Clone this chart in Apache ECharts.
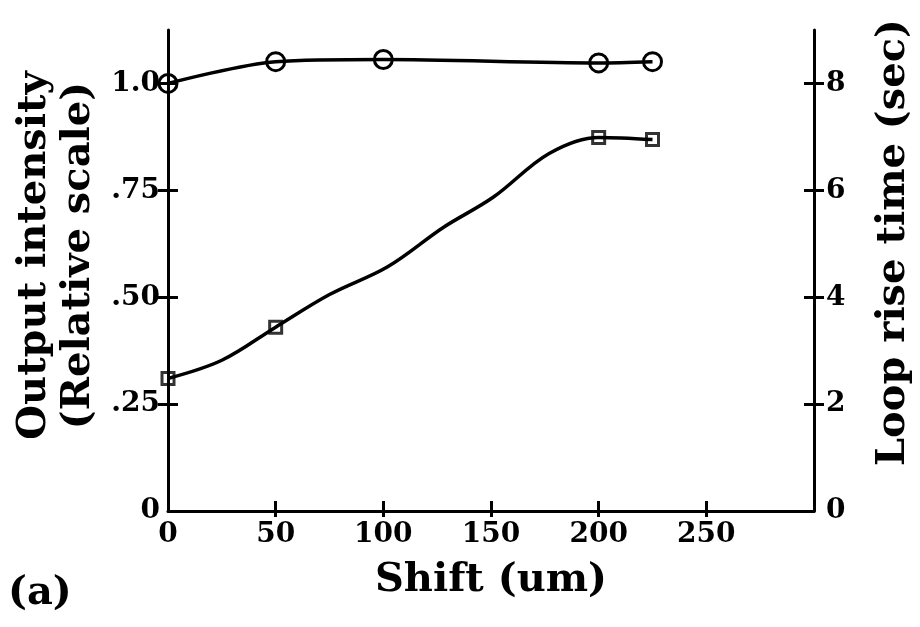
<!DOCTYPE html>
<html><head><meta charset="utf-8">
<script src="https://cdn.jsdelivr.net/npm/echarts@6/dist/echarts.min.js"></script>
<style>html,body{margin:0;padding:0;background:#fff}#c{width:920px;height:627px}</style>
</head><body><div id="c"></div>
<script>
// ---- data ----
const shiftLabelValues = [0, 50, 100, 150, 200, 250];
const shiftTickValues = [50, 100, 150, 200, 250];
const leftTickValues = [0, 0.25, 0.5, 0.75, 1.0];
const leftTickLabels = ['0', '.25', '.50', '.75', '1.0'];
const leftTickMarks = [0.25, 0.5, 0.75, 1.0];
const rightTickValues = [0, 2, 4, 6, 8];
const rightTickLabels = ['0', '2', '4', '6', '8'];
const rightTickMarks = [2, 4, 6, 8];

const intensityShift = [0, 50, 100, 200, 225];
const intensity = [1.0, 1.051, 1.056, 1.048, 1.051];

const riseShift = [0, 50, 200, 225];
const riseTime = [2.48, 3.44, 6.99, 6.95];

// points read along the drawn fitted curve of loop rise time
const riseCurveShift = [0, 25, 50, 75, 102, 128, 151, 177, 200, 225];
const riseCurveTime = [2.48, 2.82, 3.44, 4.05, 4.57, 5.31, 5.87, 6.69, 6.99, 6.95];

const xTitle = 'Shift (um)';
const leftTitle = 'Output intensity\n(Relative scale)';
const rightTitle = 'Loop rise time (sec)';
const panelLabel = '(a)';

// ---- chart ----
const FONT = 'DejaVu Serif';
const INK = '#000';
const chart = echarts.init(document.getElementById('c'), null, {renderer: 'canvas'});

const labelStyle = {color: INK, fontFamily: FONT, fontWeight: 'bold', fontSize: 28};
const nameStyle = {color: INK, fontFamily: FONT, fontWeight: 'bold', fontSize: 40};

function mapLabel(vals, labels) {
  return function (v) {
    const i = vals.indexOf(v);
    return i >= 0 ? labels[i] : '';
  };
}

const zip = (a, b) => a.map((v, i) => [v, b[i]]);

chart.setOption({
  backgroundColor: '#fff',
  animation: false,
  grid: {left: 168, right: 106, top: 30, bottom: 116, outerBoundsMode: 'none'},
  xAxis: [
    {
      type: 'value', position: 'bottom', min: 0, max: 300,
      axisLine: {show: true, onZero: false, lineStyle: {color: INK, width: 3}},
      axisTick: {show: true, inside: false, length: 6, customValues: shiftTickValues, lineStyle: {color: INK, width: 3}},
      axisLabel: Object.assign({customValues: shiftLabelValues, margin: 10}, labelStyle),
      splitLine: {show: false},
      name: xTitle, nameLocation: 'middle', nameGap: 50, nameTextStyle: nameStyle
    },
    {
      type: 'value', position: 'bottom', min: 0, max: 300,
      axisLine: {show: false, onZero: false},
      axisTick: {show: true, inside: true, length: 10, customValues: shiftTickValues, lineStyle: {color: INK, width: 3}},
      axisLabel: {show: false},
      splitLine: {show: false}
    }
  ],
  yAxis: [
    {
      type: 'value', position: 'left', min: 0, max: 1.125,
      axisLine: {show: true, onZero: false, lineStyle: {color: INK, width: 3}},
      axisTick: {show: true, inside: false, length: 10, customValues: leftTickMarks, lineStyle: {color: INK, width: 3}},
      axisLabel: Object.assign({customValues: leftTickValues, margin: 8, formatter: mapLabel(leftTickValues, leftTickLabels)}, labelStyle),
      splitLine: {show: false},
      name: leftTitle, nameLocation: 'middle', nameGap: 66,
      nameTextStyle: Object.assign({lineHeight: 44, padding: [0, 0, 0, 30]}, nameStyle)
    },
    {
      type: 'value', position: 'right', min: 0, max: 9,
      axisLine: {show: true, onZero: false, lineStyle: {color: INK, width: 3}},
      axisTick: {show: true, inside: false, length: 10, customValues: rightTickMarks, lineStyle: {color: INK, width: 3}},
      axisLabel: Object.assign({customValues: rightTickValues, margin: 12, formatter: mapLabel(rightTickValues, rightTickLabels)}, labelStyle),
      splitLine: {show: false},
      name: rightTitle, nameLocation: 'middle', nameGap: 60,
      nameTextStyle: Object.assign({padding: [0, 0, 0, 56]}, nameStyle)
    },
    {
      type: 'value', position: 'left', min: 0, max: 1.125,
      axisLine: {show: false, onZero: false},
      axisTick: {show: true, inside: true, length: 10, customValues: leftTickMarks, lineStyle: {color: INK, width: 3}},
      axisLabel: {show: false}, splitLine: {show: false}
    },
    {
      type: 'value', position: 'right', min: 0, max: 9,
      axisLine: {show: false, onZero: false},
      axisTick: {show: true, inside: true, length: 10, customValues: rightTickMarks, lineStyle: {color: INK, width: 3}},
      axisLabel: {show: false}, splitLine: {show: false}
    }
  ],
  graphic: [
    {type: 'text', left: 8, top: 574, style: {text: panelLabel, fill: INK, font: 'bold 40px "DejaVu Serif"'}}
  ],
  series: [
    {
      name: 'Output intensity', type: 'line', xAxisIndex: 0, yAxisIndex: 0,
      data: zip(intensityShift, intensity), smooth: 0.3,
      symbol: 'circle', symbolSize: 18,
      itemStyle: {color: 'rgba(0,0,0,0)', borderColor: INK, borderWidth: 3},
      lineStyle: {color: INK, width: 3.5}, z: 3
    },
    {
      name: 'Loop rise time curve', type: 'line', xAxisIndex: 0, yAxisIndex: 1,
      data: zip(riseCurveShift, riseCurveTime), smooth: 0.35, symbol: 'none',
      lineStyle: {color: INK, width: 3.5}, z: 2
    },
    {
      name: 'Loop rise time', type: 'scatter', xAxisIndex: 0, yAxisIndex: 1,
      data: zip(riseShift, riseTime), symbol: 'rect', symbolSize: 12,
      itemStyle: {color: 'rgba(0,0,0,0)', borderColor: INK, borderWidth: 3}, z: 4
    }
  ]
});
</script></body></html>
